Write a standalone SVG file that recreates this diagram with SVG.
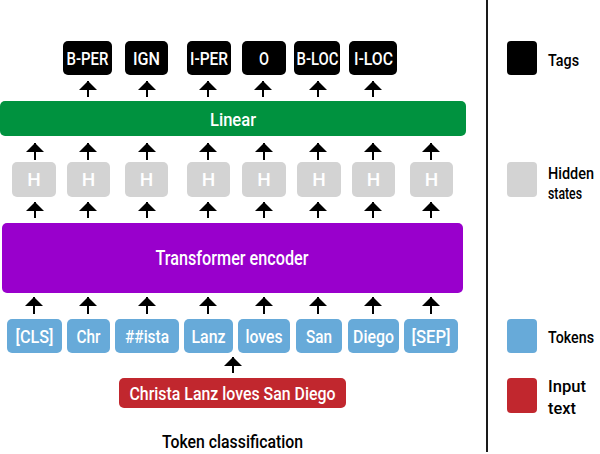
<svg xmlns="http://www.w3.org/2000/svg" width="600" height="454" viewBox="0 0 600 454">
<defs>
<style>
text{font-family:Roboto,"Liberation Sans",Arial,sans-serif;font-weight:500;text-anchor:middle}
.w{fill:#fff;font-size:19px}
.k{fill:#000;font-size:19px}
.lg{fill:#000;font-size:17px;text-anchor:start}
.tag{fill:#000}
.hid{fill:#d3d3d3}
.tok{fill:#67aad9}
.inp{fill:#c1272e}
.arr{stroke:#000;stroke-width:2;fill:none;marker-end:url(#ah)}
</style>
<marker id="ah" viewBox="0 -9 9 18" markerWidth="9" markerHeight="18" refX="9" refY="0" orient="auto" markerUnits="userSpaceOnUse">
<path d="M0,-9 L9,0 L0,9 Z" fill="#000"/>
</marker>
</defs>
<rect width="600" height="454" fill="#fff"/>

<g id="tags">
<g id="tag-bper"><rect class="tag" x="63" y="41" width="49" height="34" rx="5"/><text class="w" x="87.5" y="65" textLength="42" lengthAdjust="spacingAndGlyphs">B-PER</text></g>
<g id="tag-ign"><rect class="tag" x="125" y="41" width="43" height="34" rx="5"/><text class="w" x="146.5" y="65" textLength="27" lengthAdjust="spacingAndGlyphs">IGN</text></g>
<g id="tag-iper"><rect class="tag" x="187" y="41" width="44" height="34" rx="5"/><text class="w" x="209" y="65" textLength="38" lengthAdjust="spacingAndGlyphs">I-PER</text></g>
<g id="tag-o"><rect class="tag" x="242" y="41" width="44" height="34" rx="5"/><text class="w" x="264" y="65" textLength="10" lengthAdjust="spacingAndGlyphs">O</text></g>
<g id="tag-bloc"><rect class="tag" x="294" y="41" width="46" height="34" rx="5"/><text class="w" x="317.5" y="65" textLength="42" lengthAdjust="spacingAndGlyphs">B-LOC</text></g>
<g id="tag-iloc"><rect class="tag" x="349" y="41" width="48" height="34" rx="5"/><text class="w" x="373.5" y="65" textLength="39" lengthAdjust="spacingAndGlyphs">I-LOC</text></g>
</g>

<g id="linear"><rect x="0" y="101" width="466" height="35" rx="5" fill="#00923f"/><text class="w" x="233" y="126" textLength="46" lengthAdjust="spacingAndGlyphs">Linear</text></g>

<g id="hidden">
<g id="h1"><rect class="hid" x="12" y="162" width="44" height="35" rx="5"/><text class="w" x="34" y="186" font-size="16">H</text></g>
<g id="h2"><rect class="hid" x="67" y="162" width="43" height="35" rx="5"/><text class="w" x="88.5" y="186" font-size="16">H</text></g>
<g id="h3"><rect class="hid" x="125" y="162" width="43" height="35" rx="5"/><text class="w" x="146.5" y="186" font-size="16">H</text></g>
<g id="h4"><rect class="hid" x="187" y="162" width="43" height="35" rx="5"/><text class="w" x="208.5" y="186" font-size="16">H</text></g>
<g id="h5"><rect class="hid" x="242" y="162" width="44" height="35" rx="5"/><text class="w" x="264" y="186" font-size="16">H</text></g>
<g id="h6"><rect class="hid" x="297" y="162" width="44" height="35" rx="5"/><text class="w" x="319" y="186" font-size="16">H</text></g>
<g id="h7"><rect class="hid" x="352" y="162" width="43" height="35" rx="5"/><text class="w" x="373.5" y="186" font-size="16">H</text></g>
<g id="h8"><rect class="hid" x="410" y="162" width="43" height="35" rx="5"/><text class="w" x="431.5" y="186" font-size="16">H</text></g>
</g>

<g id="encoder"><rect x="2" y="223" width="461" height="70" rx="5" fill="#9900cc"/><text class="w" x="232" y="265" style="font-size:21px" textLength="153" lengthAdjust="spacingAndGlyphs">Transformer encoder</text></g>

<g id="tokens">
<g id="t-cls"><rect class="tok" x="7" y="319" width="55" height="34" rx="5"/><text class="w" x="34.5" y="343" textLength="38" lengthAdjust="spacingAndGlyphs">[CLS]</text></g>
<g id="t-chr"><rect class="tok" x="67" y="319" width="43" height="34" rx="5"/><text class="w" x="88.5" y="343" textLength="24" lengthAdjust="spacingAndGlyphs">Chr</text></g>
<g id="t-ista"><rect class="tok" x="115" y="319" width="64" height="34" rx="5"/><text class="w" x="147" y="343" textLength="44" lengthAdjust="spacingAndGlyphs">##ista</text></g>
<g id="t-lanz"><rect class="tok" x="184" y="319" width="49" height="34" rx="5"/><text class="w" x="208.5" y="343" textLength="34" lengthAdjust="spacingAndGlyphs">Lanz</text></g>
<g id="t-loves"><rect class="tok" x="238" y="319" width="52" height="34" rx="5"/><text class="w" x="264" y="343" textLength="37" lengthAdjust="spacingAndGlyphs">loves</text></g>
<g id="t-san"><rect class="tok" x="296" y="319" width="46" height="34" rx="5"/><text class="w" x="319" y="343" textLength="26" lengthAdjust="spacingAndGlyphs">San</text></g>
<g id="t-diego"><rect class="tok" x="348" y="319" width="51" height="34" rx="5"/><text class="w" x="373.5" y="343" textLength="41" lengthAdjust="spacingAndGlyphs">Diego</text></g>
<g id="t-sep"><rect class="tok" x="404" y="319" width="54" height="34" rx="5"/><text class="w" x="431" y="343" textLength="39" lengthAdjust="spacingAndGlyphs">[SEP]</text></g>
</g>

<g id="input"><rect class="inp" x="119" y="378" width="227" height="30" rx="5"/><text class="w" x="232.5" y="400" textLength="206" lengthAdjust="spacingAndGlyphs">Christa Lanz loves San Diego</text></g>

<g id="caption"><text class="k" x="232.5" y="448" textLength="141" lengthAdjust="spacingAndGlyphs">Token classification</text></g>

<g id="connectors">
<line class="arr" x1="88" y1="97" x2="88" y2="81"/>
<line class="arr" x1="147" y1="97" x2="147" y2="81"/>
<line class="arr" x1="208" y1="97" x2="208" y2="81"/>
<line class="arr" x1="263" y1="97" x2="263" y2="81"/>
<line class="arr" x1="318" y1="97" x2="318" y2="81"/>
<line class="arr" x1="373" y1="97" x2="373" y2="81"/>

<line class="arr" x1="35" y1="160" x2="35" y2="143"/>
<line class="arr" x1="88" y1="160" x2="88" y2="143"/>
<line class="arr" x1="147" y1="160" x2="147" y2="143"/>
<line class="arr" x1="208" y1="160" x2="208" y2="143"/>
<line class="arr" x1="264" y1="160" x2="264" y2="143"/>
<line class="arr" x1="318" y1="160" x2="318" y2="143"/>
<line class="arr" x1="373" y1="160" x2="373" y2="143"/>
<line class="arr" x1="431" y1="160" x2="431" y2="143"/>

<line class="arr" x1="35" y1="218" x2="35" y2="202"/>
<line class="arr" x1="88" y1="218" x2="88" y2="202"/>
<line class="arr" x1="147" y1="218" x2="147" y2="202"/>
<line class="arr" x1="208" y1="218" x2="208" y2="202"/>
<line class="arr" x1="264" y1="218" x2="264" y2="202"/>
<line class="arr" x1="318" y1="218" x2="318" y2="202"/>
<line class="arr" x1="373" y1="218" x2="373" y2="202"/>
<line class="arr" x1="431" y1="218" x2="431" y2="202"/>

<line class="arr" x1="34" y1="314" x2="34" y2="297"/>
<line class="arr" x1="88" y1="314" x2="88" y2="297"/>
<line class="arr" x1="147" y1="314" x2="147" y2="297"/>
<line class="arr" x1="208" y1="314" x2="208" y2="297"/>
<line class="arr" x1="264" y1="314" x2="264" y2="297"/>
<line class="arr" x1="318" y1="314" x2="318" y2="297"/>
<line class="arr" x1="373" y1="314" x2="373" y2="297"/>
<line class="arr" x1="431" y1="314" x2="431" y2="297"/>

<line class="arr" x1="233" y1="373" x2="233" y2="357"/>
</g>

<line x1="487" y1="0" x2="487" y2="452" stroke="#1a1a1a" stroke-width="2"/>

<g id="legend">
<g id="lg-tags"><rect x="507" y="41" width="30" height="34" rx="4" fill="#000"/><text class="lg" x="548" y="66" textLength="31" lengthAdjust="spacingAndGlyphs">Tags</text></g>
<g id="lg-hidden"><rect x="507" y="162" width="30" height="35" rx="4" fill="#d3d3d3"/><text class="lg" x="548" y="179" textLength="46" lengthAdjust="spacingAndGlyphs">Hidden</text><text class="lg" x="548" y="199" textLength="34" lengthAdjust="spacingAndGlyphs">states</text></g>
<g id="lg-tokens"><rect x="507" y="319" width="30" height="34" rx="4" fill="#67aad9"/><text class="lg" x="548" y="343" textLength="46" lengthAdjust="spacingAndGlyphs">Tokens</text></g>
<g id="lg-input"><rect x="507" y="378" width="30" height="35" rx="4" fill="#c1272e"/><text class="lg" x="548" y="392" textLength="38" lengthAdjust="spacingAndGlyphs">Input</text><text class="lg" x="548" y="414" textLength="28" lengthAdjust="spacingAndGlyphs">text</text></g>
</g>
</svg>
